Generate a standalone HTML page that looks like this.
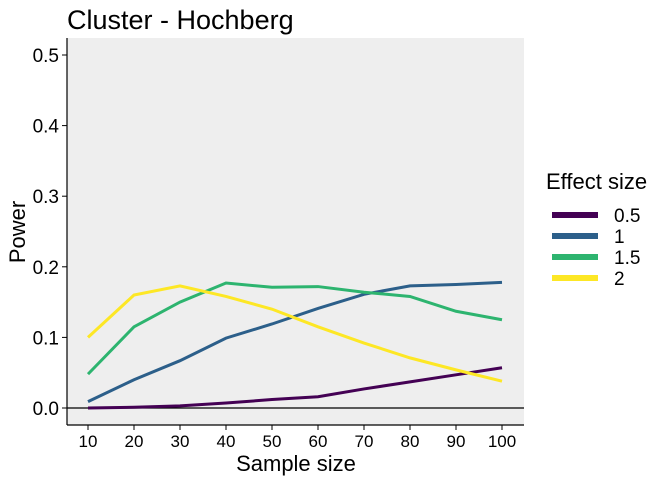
<!DOCTYPE html>
<html><head><meta charset="utf-8"><style>
body{margin:0;background:#fff;font-family:"Liberation Sans",Arial,sans-serif}
svg text{font-family:"Liberation Sans",Arial,sans-serif}
</style></head><body>
<svg id="chart" width="672" height="480" xmlns="http://www.w3.org/2000/svg">
<text x="67" y="29" font-size="27" fill="#000">Cluster - Hochberg</text>
<rect x="67" y="38" width="457" height="387" fill="#eeeeee"/>
<g id="marks"></g>
<g id="axes"></g>
<text x="296" y="471" font-size="22" text-anchor="middle">Sample size</text>
<text transform="translate(25,232) rotate(-90)" font-size="22" text-anchor="middle">Power</text>
<g id="legend">
<text x="546" y="189" font-size="22">Effect size</text>
</g>
</svg>
<script>
const sampleSizes=[10,20,30,40,50,60,70,80,90,100];
const effectLabels=["0.5","1","1.5","2"];
const colors=["#440154","#2c5f8a","#2db46f","#fde725"];
const series05=[0.000,0.001,0.003,0.007,0.012,0.016,0.027,0.037,0.047,0.057];
const series1=[0.009,0.040,0.067,0.099,0.119,0.141,0.161,0.173,0.175,0.178];
const series15=[0.048,0.115,0.150,0.177,0.171,0.172,0.164,0.158,0.137,0.125];
const series2=[0.100,0.160,0.173,0.158,0.140,0.115,0.092,0.071,0.054,0.038];
const yTicks=[0,0.1,0.2,0.3,0.4,0.5];
const yTickLabels=["0.0","0.1","0.2","0.3","0.4","0.5"];
const allSeries=[series05,series1,series15,series2];
const NS="http://www.w3.org/2000/svg";
const xs=v=>88+(v-10)*46/10;
const ys=v=>408-v*706;
function mk(tag,attrs,parent){const e=document.createElementNS(NS,tag);for(const k in attrs)e.setAttribute(k,attrs[k]);parent.appendChild(e);return e;}
const marks=document.getElementById('marks'),axes=document.getElementById('axes'),legend=document.getElementById('legend');
let hl=mk('line',{x1:67,x2:524,y1:ys(0),y2:ys(0),stroke:'#000','stroke-width':1.2},marks);


allSeries.forEach((s,i)=>{
 const p=mk('polyline',{points:s.map((v,j)=>xs(sampleSizes[j])+','+ys(v)).join(' '),fill:'none',stroke:colors[i],'stroke-width':3},marks);
 
 
 const ly=215+i*21;
 const r=mk('line',{x1:552,x2:598,y1:ly,y2:ly,stroke:colors[i],'stroke-width':6},legend);
 
 
 const t=mk('text',{x:614,y:ly+7,'font-size':19},legend);t.textContent=effectLabels[i];
 
 
});
let ax=mk('line',{x1:67,x2:67,y1:38,y2:425,stroke:'#000','stroke-width':1.2},axes);


let bx=mk('line',{x1:67,x2:524,y1:425,y2:425,stroke:'#000','stroke-width':1.2},axes);


yTicks.forEach((v,i)=>{
 mk('line',{x1:62,x2:67,y1:ys(v),y2:ys(v),stroke:'#000'},axes);
 const t=mk('text',{x:59,y:ys(v)+7,'font-size':19,'text-anchor':'end'},axes);t.textContent=yTickLabels[i];
 
 
});
sampleSizes.forEach(v=>{
 mk('line',{x1:xs(v),x2:xs(v),y1:425,y2:430,stroke:'#000'},axes);
 const t=mk('text',{x:xs(v),y:447,'font-size':17,'text-anchor':'middle'},axes);t.textContent=v;
 
 
});
</script>
</body></html>
